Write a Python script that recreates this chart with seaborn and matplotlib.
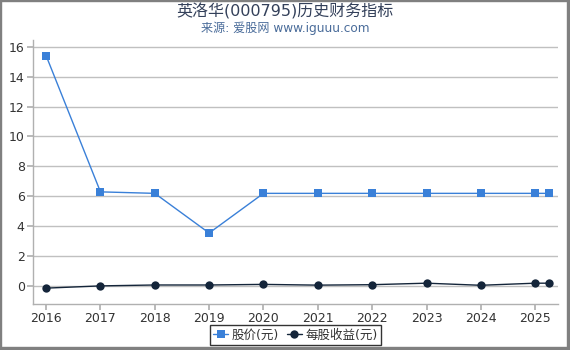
import matplotlib
matplotlib.use("Agg")
import matplotlib.pyplot as plt
import seaborn as sns
import pandas as pd
from matplotlib.patches import Rectangle

years = [2016, 2017, 2018, 2019, 2020, 2021, 2022, 2023, 2024, 2025, 2025.25]
price = [15.4, 6.3, 6.2, 3.55, 6.2, 6.2, 6.2, 6.2, 6.2, 6.2, 6.2]
eps = [-0.13, 0.02, 0.08, 0.08, 0.12, 0.07, 0.1, 0.2, 0.06, 0.2, 0.2]
tick_years = [2016, 2017, 2018, 2019, 2020, 2021, 2022, 2023, 2024, 2025]
title = "英洛华(000795)历史财务指标"
subtitle = "来源: 爱股网 www.iguuu.com"
label_price = "股价(元)"
label_eps = "每股收益(元)"

sns.set_theme(style="white")
plt.rcParams['font.family'] = ['DejaVu Sans', 'Noto Sans CJK SC']
plt.rcParams['axes.unicode_minus'] = False

df = pd.DataFrame({"year": years, "price": price, "eps": eps})

fig = plt.figure(figsize=(5.7, 3.5), dpi=100)
ax = fig.add_axes([0.058, 0.131, 0.921, 0.755])

sns.lineplot(data=df, x="year", y="price", ax=ax, color="#3a80d8", marker="s",
             markersize=6, markeredgewidth=0, linewidth=1, label=label_price)
sns.lineplot(data=df, x="year", y="eps", ax=ax, color="#14253a", marker="o",
             markersize=6, markeredgewidth=0, linewidth=1, label=label_eps)

ax.set_xlim(2015.76, 2025.42)
ax.set_ylim(-1.2, 16.45)
ax.set_xticks(tick_years)
ax.set_xticklabels([str(y) for y in tick_years])
ax.set_yticks(list(range(0, 17, 2)))
ax.yaxis.grid(True, color="#c0c0c0", linewidth=1)
ax.xaxis.grid(False)
ax.set_xlabel("")
ax.set_ylabel("")
for s in ["top", "right"]:
    ax.spines[s].set_visible(False)
for s in ["left", "bottom"]:
    ax.spines[s].set_color("#b0b0b0")
    ax.spines[s].set_linewidth(1)
ax.tick_params(axis="both", which="both", length=4, color="#b0b0b0",
               labelsize=9, labelcolor="#333333", left=True, bottom=True, pad=2)

leg = ax.legend(loc="upper center", bbox_to_anchor=(0.5, -0.08), ncol=2,
                frameon=True, fontsize=9, handlelength=1.2, handletextpad=0.3,
                columnspacing=0.6, borderpad=0.25, fancybox=False,
                borderaxespad=0)
leg.get_frame().set_edgecolor("black")
leg.get_frame().set_linewidth(1)
for t in leg.get_texts():
    t.set_color("#333333")

fig.text(0.5, 0.967, title, ha="center", va="center", fontsize=11.5, color="#33405a")
fig.text(0.5, 0.918, subtitle, ha="center", va="center", fontsize=8.7, color="#4a6c9a")

W, H = 570.0, 350.0
fig.patches.append(Rectangle((0, 1 - 1 / H), 1, 1 / H, transform=fig.transFigure,
                             color="#808080", zorder=10))
fig.patches.append(Rectangle((0, 0), 1 / W, 1, transform=fig.transFigure,
                             color="#808080", zorder=10))
fig.patches.append(Rectangle((1 - 3 / W, 0), 3 / W, 1, transform=fig.transFigure,
                             color="#808080", zorder=10))
fig.patches.append(Rectangle((0, 0), 1, 3 / H, transform=fig.transFigure,
                             color="#808080", zorder=10))

fig.savefig("out.png", dpi=100)
